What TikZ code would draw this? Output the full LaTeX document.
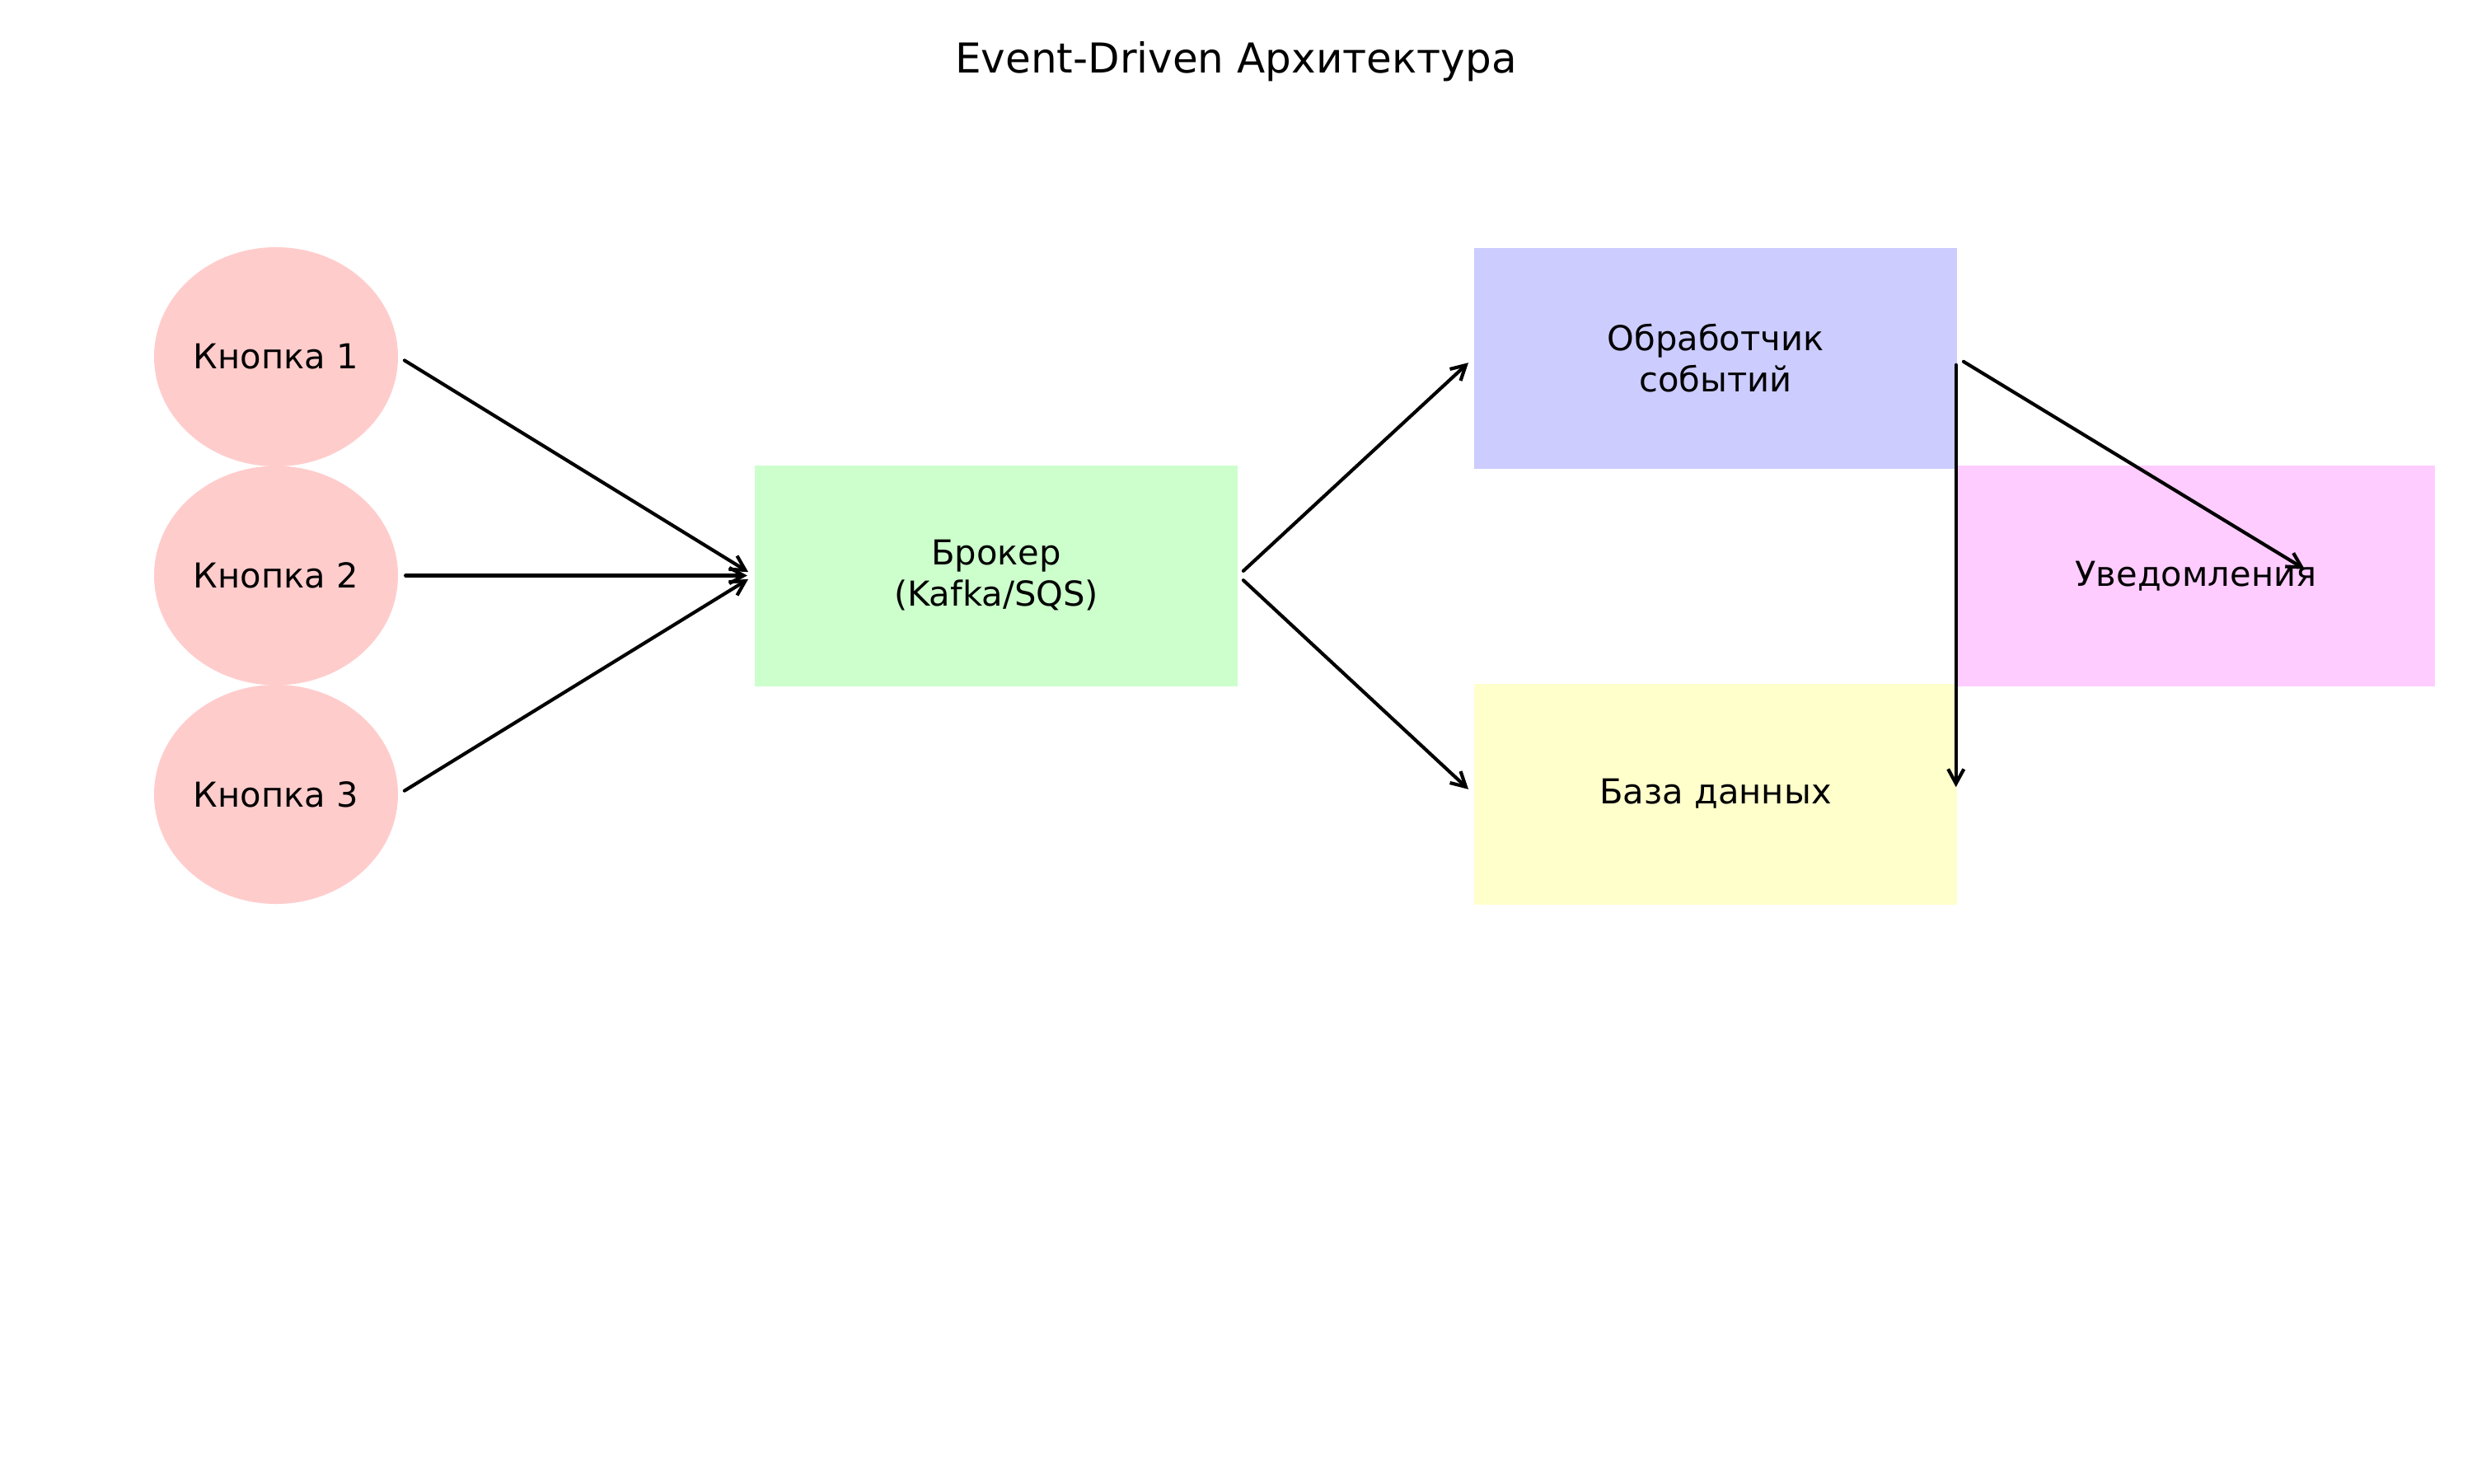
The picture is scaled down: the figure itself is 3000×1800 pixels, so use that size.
\documentclass[tikz,border=0pt]{standalone}
\usepackage{fontspec}
\setmainfont{DejaVu Sans}
\usetikzlibrary{shapes.geometric,arrows.meta,calc}
\definecolor{cbtn}{HTML}{FFCCCC}
\definecolor{cbrk}{HTML}{CCFFCC}
\definecolor{chnd}{HTML}{CCCCFF}
\definecolor{cntf}{HTML}{FFCCFF}
\definecolor{cdb}{HTML}{FFFFCC}
\tikzset{
  btn/.style={ellipse, fill=cbtn, draw=none, inner sep=0pt,
    minimum width=71.04pt, minimum height=63.84pt,
    font=\fontsize{10}{12}\selectfont},
  boxnode/.style={rectangle, draw=none, inner sep=0pt,
    minimum width=140.64pt, minimum height=64.32pt, align=center,
    font=\fontsize{10}{12}\selectfont},
  conn/.style={line width=1pt, line cap=round,
    -{Straight Barb[length=4.2pt,width=4.6pt,line width=1pt]},
    shorten <=2pt, shorten >=2pt},
}
\begin{document}
\begin{tikzpicture}[x=0.24pt,y=-0.24pt]
\useasboundingbox (0,0) rectangle (3000,1800);
\fill[white] (0,0) rectangle (3000,1800);
\node[font=\fontsize{12}{14}\selectfont] (title) at (1500,75) {Event-Driven Архитектура};
\node[btn] (b1) at (335,433) {Кнопка 1};
\node[btn] (b2) at (335,698.5) {Кнопка 2};
\node[btn] (b3) at (335,964) {Кнопка 3};
\node[boxnode, fill=cbrk] (broker) at (1209,698.5) {Брокер\\(Kafka/SQS)};
\node[boxnode, fill=chnd] (handler) at (2082,434.5) {Обработчик\\событий};
\node[boxnode, fill=cdb] (db) at (2082,963.5) {База данных};
\node[boxnode, fill=cntf, minimum width=139.2pt] (notif) at (2665,699) {Уведомления};
\coordinate (ntip) at ($(notif.center)+(139,-4)$);
\draw[conn] (b1.east) -- (broker.west);
\draw[conn] (b2.east) -- (broker.west);
\draw[conn] (b3.east) -- (broker.west);
\draw[conn] (broker.east) -- (handler.west);
\draw[conn] (broker.east) -- (db.west);
\draw[conn] (handler.east) -- (ntip);
\draw[conn] ([xshift=-0.5pt]handler.east) -- ([xshift=-0.5pt]db.east);
\end{tikzpicture}
\end{document}
